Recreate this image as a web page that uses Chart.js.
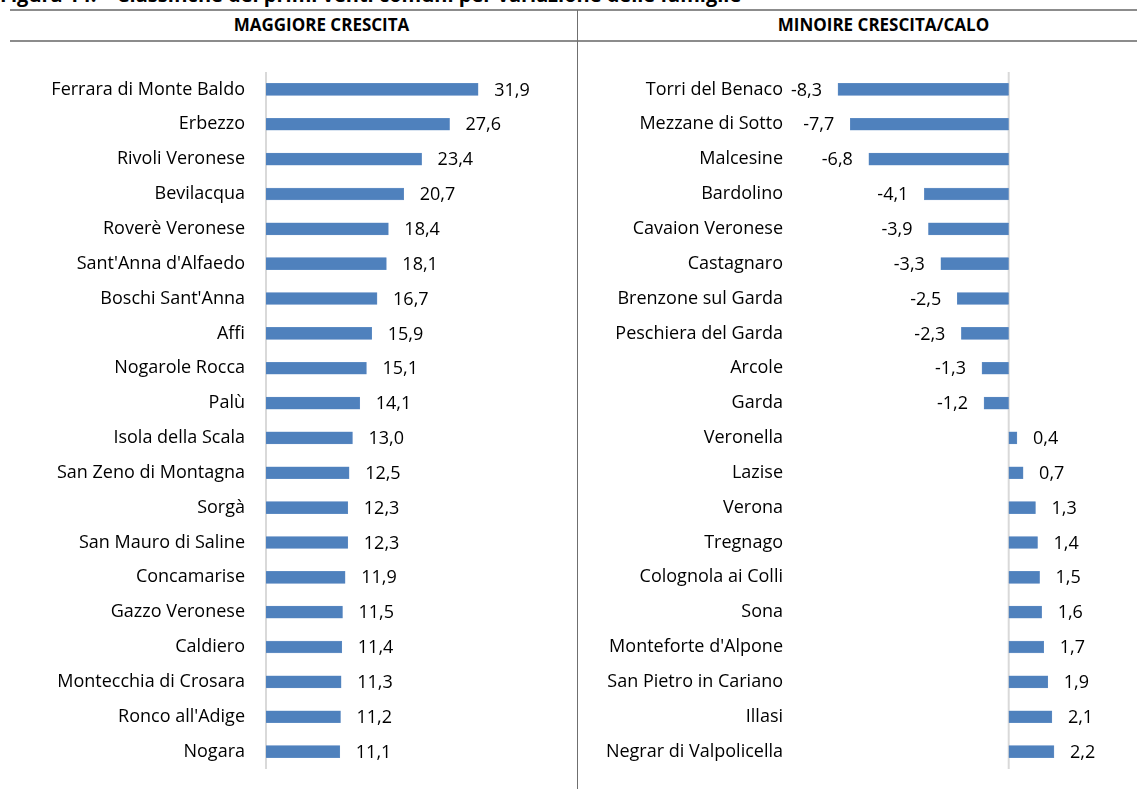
<!DOCTYPE html>
<html>
<head>
<meta charset="utf-8">
<script src="https://cdn.jsdelivr.net/npm/chart.js@4/dist/chart.umd.min.js"></script>
<style>
    body { margin: 0; background: #fff; font-family: "Open Sans", sans-serif; }
    #page { position: relative; width: 1137px; height: 789px; overflow: hidden; }
    .title { position: absolute; left: 0; top: -19px; font-weight: bold; font-size: 20px; white-space: nowrap; color: #000; }
    .hline { position: absolute; left: 10px; width: 1127px; height: 0; border-top: 2px solid #8c8c8c; }
    .vline { position: absolute; left: 577px; top: 10px; width: 0; height: 779px; border-left: 1px solid #6f6f6f; }
    .head { position: absolute; top: 13px; font-weight: bold; font-size: 17px; text-align: center; color: #000; }
    canvas { position: absolute; }
</style>
</head>
<body>
<div id="page">
    <div class="title">Figura 14. – Classifiche dei primi venti comuni per variazione delle famiglie</div>
    <div class="hline" style="top:9px"></div>
    <div class="hline" style="top:40px"></div>
    <div class="vline"></div>
    <div class="head" style="left:38px;width:567px">MAGGIORE CRESCITA</div>
    <div class="head" style="left:604px;width:559px">MINOIRE CRESCITA/CALO</div>
    <canvas id="chart-up" width="560" height="697" style="left:0;top:72px"></canvas>
    <canvas id="chart-down" width="557" height="697" style="left:580px;top:72px"></canvas>
</div>
<script>
// comuni con maggiore crescita delle famiglie (%)
const upLabels = ["Ferrara di Monte Baldo", "Erbezzo", "Rivoli Veronese", "Bevilacqua", "Roverè Veronese",
    "Sant'Anna d'Alfaedo", "Boschi Sant'Anna", "Affi", "Nogarole Rocca", "Palù", "Isola della Scala",
    "San Zeno di Montagna", "Sorgà", "San Mauro di Saline", "Concamarise", "Gazzo Veronese", "Caldiero",
    "Montecchia di Crosara", "Ronco all'Adige", "Nogara"]
const upValues = [31.9, 27.6, 23.4, 20.7, 18.4, 18.1, 16.7, 15.9, 15.1, 14.1, 13.0,
    12.5, 12.3, 12.3, 11.9, 11.5, 11.4, 11.3, 11.2, 11.1]

// comuni con minore crescita / calo
const downLabels = ["Torri del Benaco", "Mezzane di Sotto", "Malcesine", "Bardolino", "Cavaion Veronese",
    "Castagnaro", "Brenzone sul Garda", "Peschiera del Garda", "Arcole", "Garda", "Veronella", "Lazise",
    "Verona", "Tregnago", "Colognola ai Colli", "Sona", "Monteforte d'Alpone", "San Pietro in Cariano",
    "Illasi", "Negrar di Valpolicella"]
const downValues = [-8.3, -7.7, -6.8, -4.1, -3.9, -3.3, -2.5, -2.3, -1.3, -1.2, 0.4, 0.7,
    1.3, 1.4, 1.5, 1.6, 1.7, 1.9, 2.1, 2.2]

const FONT = '"Open Sans", sans-serif'
const FONT_SIZE = 18

// draws the zero axis line and the value labels (comma decimals)
const valueLabels = {
    id: 'valueLabels',
    beforeDatasetsDraw(chart) {
        let ctx = chart.ctx
        let x0 = chart.scales.x.getPixelForValue(0)
        ctx.save()
        ctx.strokeStyle = '#d9d9d9'
        ctx.lineWidth = 2
        ctx.beginPath()
        ctx.moveTo(x0, chart.chartArea.top)
        ctx.lineTo(x0, chart.chartArea.bottom)
        ctx.stroke()
        ctx.restore()
    },
    afterDatasetsDraw(chart) {
        let ctx = chart.ctx
        let values = chart.data.datasets[0].data
        ctx.save()
        ctx.font = FONT_SIZE + 'px ' + FONT
        ctx.fillStyle = '#000'
        ctx.textBaseline = 'middle'
        chart.getDatasetMeta(0).data.forEach((bar, i) => {
            let v = values[i]
            let text = v.toFixed(1).replace('.', ',')
            if (v >= 0) {
                ctx.textAlign = 'left'
                ctx.fillText(text, bar.x + 16, bar.y + 1)
            } else {
                ctx.textAlign = 'right'
                ctx.fillText(text, bar.x - 16, bar.y + 1)
            }
        })
        ctx.restore()
    }
}

function makeChart(id, labels, values, xMin, xMax, axisWidth, tickPad, padRight) {
    return new Chart(document.getElementById(id), {
        type: 'bar',
        data: {
            labels: labels,
            datasets: [{
                data: values,
                backgroundColor: '#4f81bd',
                borderColor: '#6a94c8',
                borderWidth: 0.5,
                barThickness: 12
            }]
        },
        options: {
            indexAxis: 'y',
            responsive: false,
            animation: false,
            layout: { padding: { left: 0, right: padRight, top: 0, bottom: 0 } },
            plugins: { legend: { display: false }, tooltip: { enabled: false } },
            scales: {
                x: { display: false, min: xMin, max: xMax },
                y: {
                    // fixed label column, no extra room above/below the rows
                    afterFit: (axis) => {
                        axis.width = axisWidth
                        axis.paddingTop = 0
                        axis.paddingBottom = 0
                    },
                    grid: { display: false, drawTicks: false },
                    border: { display: false },
                    ticks: { color: '#000', padding: tickPad, font: { family: FONT, size: FONT_SIZE } }
                }
            }
        },
        plugins: [valueLabels]
    })
}

makeChart('chart-up', upLabels, upValues, 0, 40, 266, 21, 28)
makeChart('chart-down', downLabels, downValues, -10, 4, 223, 20, 46)
</script>
</body>
</html>
